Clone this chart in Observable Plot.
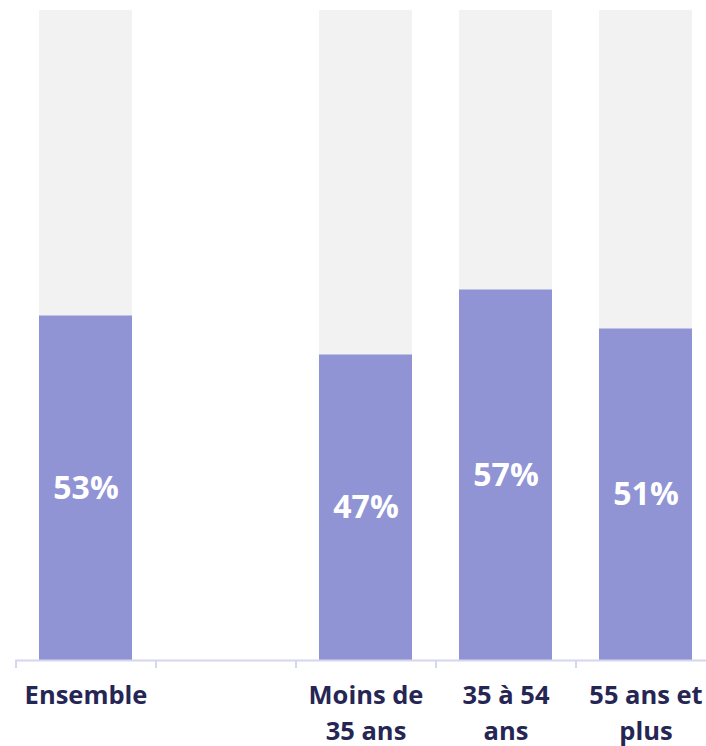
<!DOCTYPE html>
<html>
<head>
<meta charset="utf-8">
<script src="https://cdn.jsdelivr.net/npm/d3@7"></script>
<script src="https://cdn.jsdelivr.net/npm/@observablehq/plot@0.6"></script>
<style>
  html, body { margin: 0; padding: 0; background: #fff; }
  #chart svg { display: block; }
</style>
</head>
<body>
<div id="chart"></div>
<script>
const categories = ["Ensemble", "", "Moins de\n35 ans", "35 à 54\nans", "55 ans et\nplus"];
const values = [53, null, 47, 57, 51];
const total = 100;

const data = categories.map((c, i) => ({category: c, value: values[i]}));
const shown = data.filter(d => d.value != null);

const purple = "#9094d4";
const grey = "#f2f2f2";
const axisColor = "#d6d6ee";
const ink = "#262654";
const font = "'Open Sans', sans-serif";

const chart = Plot.plot({
  width: 706,
  height: 746,
  marginTop: 10,
  marginBottom: 86,
  marginLeft: 15,
  marginRight: -9,
  style: {fontFamily: font, background: "#fff"},
  x: {domain: categories, paddingInner: 0.336, paddingOuter: 0.168, axis: null},
  y: {domain: [0, total], axis: null},
  marks: [
    Plot.barY(shown, {x: "category", y: () => total, fill: grey}),
    Plot.barY(shown, {x: "category", y: "value", fill: purple}),
    Plot.ruleY([0], {stroke: axisColor, strokeWidth: 2}),
    Plot.ruleX(categories, {x: d => d, y1: 0, y2: 0, insetBottom: -8, dx: -70, stroke: axisColor, strokeWidth: 2}),
    Plot.text(shown, {x: "category", y: d => d.value / 2, text: d => d.value + "%", fill: "white", fontSize: 32, fontWeight: 700}),
    Plot.text(data, {x: "category", y: 0, text: "category", dy: 18, lineAnchor: "top", lineHeight: 1.42, fill: ink, fontSize: 25.5, fontWeight: 700})
  ]
});
document.getElementById("chart").appendChild(chart);
</script>
</body>
</html>
